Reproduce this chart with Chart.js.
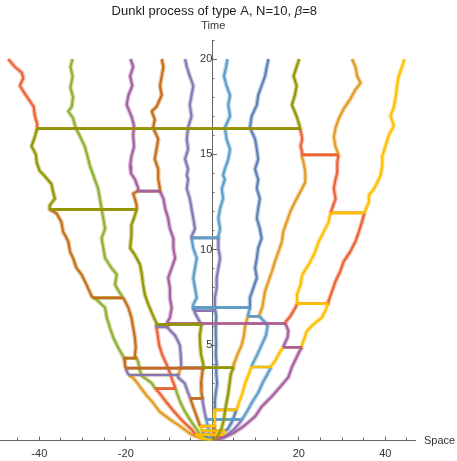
<!DOCTYPE html>
<html><head><meta charset="utf-8">
<script src="https://cdn.jsdelivr.net/npm/chart.js@4.4.0/dist/chart.umd.min.js"></script>
<style>html,body{margin:0;padding:0;background:#fff;}#wrap{width:457px;height:461px;}</style>
</head><body><div id="wrap"><canvas id="c" width="457" height="461"></canvas></div>
<script>
// ---- data (Space x, Time t), each rank = k-th particle from the left, read top to bottom ----
const rank1 = [[20,-47.2],[19.6,-45.7],[19.3,-44.1],[19.0,-43.7],[18.6,-44.5],[18.2,-43.4],[17.8,-42.2],[17.5,-41.3],[17.0,-41.0],[16.6,-40.5],[15.95,-41.0],[15.43,-41.8],[15.0,-40.8],[14.57,-40.6],[14.13,-39.9],[13.9,-38.9],[13.45,-37.2],[13.02,-36.8],[12.68,-36.4],[12.33,-37.6],[11.9,-36.0],[11.46,-34.9],[10.95,-34.5],[10.43,-33.3],[9.9,-32.9],[9.56,-32.2],[9.04,-31.4],[8.69,-30.2],[8.17,-29.1],[7.57,-27.9],[7.39,-26.8],[6.96,-24.8],[6.44,-24.4],[5.92,-23.7],[5.4,-22.9],[4.88,-21.8],[4.4,-20.6],[4.0,-20.2],[3.6,-19.7],[3.3,-18.4],[3.0,-17.3],[2.8,-16.7],[2.3,-15.0],[2.0,-13.8],[1.5,-12.1],[1.1,-9.8],[0.8,-7.8],[0.5,-6.0],[0.3,-4.8],[0.12,-2.8],[0,0]];
const rank2 = [[20,-32.3],[19.6,-32.8],[19.1,-32.3],[18.5,-32.8],[18.0,-32.2],[17.5,-32.5],[17.26,-33.3],[16.9,-32.2],[16.4,-31.6],[15.95,-30.6],[15.43,-29.5],[14.93,-28.9],[14.4,-28.3],[13.9,-27.5],[13.7,-27.2],[13.2,-26.4],[12.68,-26.0],[12.16,-25.6],[11.64,-25.2],[11.1,-24.8],[10.6,-25.6],[10.1,-25.2],[9.56,-24.8],[9.04,-23.3],[8.7,-22.1],[8.17,-22.5],[7.74,-21.4],[7.4,-20.4],[6.96,-19.4],[6.44,-18.7],[5.92,-18.3],[5.4,-17.9],[4.88,-17.7],[4.45,-17.9],[4.1,-17.1],[3.7,-16.8],[3.38,-16.3],[3.0,-14.0],[2.75,-13.3],[2.5,-12.3],[2.0,-10.6],[1.5,-8.8],[1.0,-6.8],[0.6,-4.9],[0.35,-4.0],[0.1,-2.1],[0,0]];
const rank3 = [[20,-18.9],[19.6,-18.3],[19.1,-19.0],[18.6,-18.5],[18.1,-19.4],[17.6,-19.8],[17.0,-18.7],[16.5,-18.1],[16.0,-18.3],[15.4,-18.1],[14.9,-18.7],[14.4,-19.0],[14.0,-18.8],[13.7,-17.9],[13.2,-17.1],[12.94,-18.3],[12.68,-17.9],[12.33,-17.5],[11.8,-17.9],[11.29,-18.7],[10.77,-18.7],[10.08,-19.0],[9.73,-17.9],[9.21,-16.7],[8.7,-16.3],[8.17,-16.0],[7.65,-15.6],[7.13,-14.8],[6.7,-14.0],[6.44,-13.5],[6.15,-12.9],[5.9,-12.9],[5.5,-12.6],[5.0,-12.3],[4.5,-11.6],[4.0,-10.6],[3.6,-9.9],[3.2,-9.3],[2.85,-8.7],[2.5,-8.2],[2.0,-7.4],[1.5,-6.3],[1.0,-4.9],[0.6,-3.7],[0.3,-2.8],[0.1,-1.5],[0,0]];
const rank4 = [[20,-11.7],[19.6,-11.3],[19.1,-11.7],[18.6,-12.1],[18.1,-11.7],[17.5,-12.9],[17.26,-14.0],[16.83,-13.3],[16.4,-13.7],[15.8,-12.5],[15.27,-12.9],[14.75,-13.3],[14.23,-12.5],[13.7,-12.5],[13.2,-12.1],[12.68,-11.3],[12.16,-10.9],[11.64,-10.2],[11.1,-9.8],[10.6,-9.0],[10.08,-9.0],[9.56,-8.6],[9.04,-9.4],[8.52,-10.2],[8.0,-9.8],[7.48,-9.8],[6.96,-9.4],[6.44,-9.8],[6.2,-10.4],[5.9,-10.3],[5.5,-8.6],[5.0,-7.5],[4.5,-7.3],[4.0,-7.2],[3.6,-7.6],[3.3,-7.9],[3.0,-6.4],[2.5,-5.6],[2.0,-4.8],[1.5,-4.0],[1.0,-3.2],[0.6,-2.6],[0.3,-1.8],[0.1,-0.9],[0,0]];
const rank5 = [[20,-6.3],[19.6,-5.9],[19.1,-5.2],[18.6,-4.4],[18.1,-4.8],[17.6,-5.2],[17.0,-4.8],[16.4,-5.6],[15.8,-5.9],[15.27,-5.6],[14.75,-6.3],[14.23,-5.6],[13.9,-5.9],[13.7,-5.6],[13.2,-5.9],[12.68,-5.2],[12.16,-4.8],[11.64,-4.4],[11.1,-4.0],[10.7,-4.8],[10.08,-4.4],[9.56,-3.6],[9.04,-4.0],[8.52,-4.4],[8.0,-4.0],[7.48,-3.6],[7.13,-4.4],[6.9,-4.4],[6.5,-3.6],[6.1,-2.6],[5.5,-2.9],[5.0,-2.8],[4.5,-2.6],[4.0,-2.1],[3.6,-2.3],[3.0,-2.6],[2.5,-2.5],[2.0,-2.2],[1.5,-1.8],[1.0,-1.3],[0.6,-0.9],[0.3,-0.7],[0.1,-0.3],[0,0]];
const rank6 = [[20,3.5],[19.6,3.2],[19.1,2.7],[18.6,3.3],[18.1,4.1],[17.6,3.7],[17.0,4.1],[16.4,2.9],[15.8,3.3],[15.27,4.1],[14.75,3.7],[14.23,2.9],[13.9,2.5],[13.7,2.9],[13.2,2.2],[12.68,2.5],[12.16,1.8],[11.64,1.4],[11.1,1.8],[10.7,1.4],[10.08,1.4],[9.56,1.8],[9.04,1.4],[8.52,1.0],[8.0,1.0],[7.48,0.6],[7.0,0.6],[6.5,0.9],[6.0,0.8],[5.5,0.8],[5.0,0.9],[4.5,0.8],[4.0,1.0],[3.5,0.9],[3.0,1.1],[2.5,0.8],[2.0,0.6],[1.5,0.6],[1.0,0.6],[0.6,0.5],[0.3,0.4],[0.1,0.3],[0,0]];
const rank7 = [[20,13.0],[19.6,12.6],[19.1,12.2],[18.6,11.4],[18.1,10.6],[17.6,10.3],[17.0,9.1],[16.4,8.7],[15.8,9.9],[15.27,10.3],[14.75,10.6],[14.23,9.9],[13.9,10.3],[13.7,10.6],[13.2,10.3],[12.68,11.0],[12.16,10.6],[11.64,10.3],[11.1,11.0],[10.6,11.4],[10.08,10.6],[9.56,10.3],[9.04,9.9],[8.52,10.3],[8.0,9.5],[7.48,8.7],[7.0,8.7],[6.6,8.3],[6.0,7.6],[5.5,7.3],[5.0,6.8],[4.5,5.8],[4.0,5.0],[3.5,4.3],[3.0,4.0],[2.5,3.7],[2.0,3.3],[1.5,2.9],[1.0,2.6],[0.6,2.1],[0.3,1.4],[0.1,0.9],[0,0]];
const rank8 = [[20,20.1],[19.6,19.5],[19.1,18.8],[18.6,19.5],[18.1,19.1],[17.6,18.4],[17.0,19.5],[16.4,20.3],[15.95,20.7],[15.8,20.8],[15.43,20.4],[15.1,20.8],[14.58,21.1],[14.06,21.5],[13.54,21.5],[13.02,20.3],[12.5,19.1],[11.98,18.0],[11.46,17.2],[10.95,16.4],[10.43,16.1],[9.9,15.3],[9.39,14.5],[8.87,13.8],[8.35,13.0],[7.83,12.2],[7.31,11.8],[7.0,11.6],[6.6,10.9],[6.2,12.2],[6.0,12.8],[5.5,12.4],[5.0,11.4],[4.5,10.4],[4.0,9.3],[3.5,8.5],[3.0,7.6],[2.5,7.0],[2.0,6.2],[1.5,5.4],[1.0,4.6],[0.6,3.6],[0.35,2.6],[0.1,1.5],[0,0]];
const rank9 = [[20,32.3],[19.6,33.1],[19.1,33.5],[18.75,34.3],[18.4,33.1],[17.9,31.9],[17.4,30.4],[16.9,29.3],[16.4,28.5],[15.9,28.1],[15.4,28.5],[15.1,29.0],[14.58,28.9],[14.06,28.9],[13.7,28.5],[13.2,28.1],[12.68,28.5],[12.16,27.7],[11.46,26.9],[10.95,25.8],[10.43,24.6],[9.9,23.8],[9.39,22.7],[8.69,20.8],[8.17,20.4],[7.65,19.6],[7.25,19.6],[7.0,19.3],[6.5,18.0],[6.2,16.9],[5.75,17.6],[5.4,17.4],[5.0,16.6],[4.7,15.8],[4.2,14.6],[3.9,13.6],[3.5,12.8],[3.0,11.6],[2.5,10.6],[2.0,9.2],[1.5,8.0],[1.0,6.6],[0.6,5.1],[0.3,3.5],[0.1,2.0],[0,0]];
const rank10 = [[20,44.4],[19.6,43.9],[19.1,43.1],[18.6,42.7],[18.0,42.4],[17.5,42.0],[17.0,41.2],[16.5,42.0],[16.0,40.8],[15.4,40.0],[14.9,39.3],[14.4,39.3],[13.9,38.9],[13.7,38.5],[13.2,37.4],[12.85,36.2],[12.5,36.2],[12.07,35.4],[11.46,34.6],[10.95,33.9],[10.43,33.1],[9.9,31.9],[9.39,30.4],[8.87,29.6],[8.35,28.5],[7.83,27.7],[7.31,26.9],[6.79,26.1],[6.44,25.3],[6.09,23.4],[5.75,21.9],[5.23,21.1],[4.95,20.7],[4.6,20.0],[4.36,19.5],[3.84,18.4],[3.32,17.6],[2.81,15.7],[2.29,13.7],[1.77,11.4],[1.25,9.9],[0.73,7.2],[0.38,4.9],[0.15,2.6],[0,0]];
// jumps: [time, rankA, xA, rankB, xB]  (the two particles exchange places)
const jumps = [[16.35,1,-40.5,8,20.3],[14.98,8,20.6,9,29.2],[13.07,3,-17.3,4,-12.1],[12.12,1,-37.6,3,-17.5],[11.93,9,27.3,10,35.2],[10.62,5,-4.8,6,1.4],[7.48,1,-27.6,2,-20.6],[7.17,9,19.6,10,26.8],[6.96,5,-4.4,7,8.7],[6.8,5,-4.2,6,0.7],[6.5,7,8.2,8,10.9],[6.13,4,-10.4,9,16.9],[6.08,3,-12.9,5,-2.5],[5.95,3,-12.8,4,-10.2],[4.88,9,16.4,10,20.7],[4.31,1,-20.4,2,-17.5],[3.85,8,9.0,9,13.6],[3.82,5,-2.1,7,4.9],[3.81,4,-7.3,5,-2.1],[3.79,1,-20.1,5,-2.1],[3.43,1,-19.4,4,-7.8],[2.72,2,-13.2,3,-8.5],[2.2,4,-5.1,5,-2.3],[1.6,6,0.6,8,5.6],[1.1,5,-1.4,9,6.9],[0.75,4,-2.8,6,0.5],[0.5,4,-2.3,8,3.0],[0.3,2,-3.9,8,2.5]];
const palette = ['#5E81B5','#E19C24','#8FB032','#EB6235','#8778B3','#C56E1A','#5D9EC7','#FFBF00','#A5609D','#929600'];
const topColorOfRank = [3,2,8,5,4,6,0,9,1,7];
const xTicks = [-40,-20,20,40];
const xMinorTicks = [-45,-40,-35,-30,-25,-20,-15,-10,-5,5,10,15,20,25,30,35,40,45];
const yTicks = [5,10,15,20];
const yMinorTicks = [1,2,3,4,6,7,8,9,11,12,13,14,16,17,18,19,21];
const titleMain = 'Dunkl process of type A, N=10, ';
const titleBeta = 'β';
const titleEnd = '=8';
const xAxisLabel = 'Space';
const yAxisLabel = 'Time';

// ---- build one trajectory per particle, following exchanges from the top down ----
const ranks = [rank1,rank2,rank3,rank4,rank5,rank6,rank7,rank8,rank9,rank10];
const sortedJumps = jumps.slice().sort((a,b)=>b[0]-a[0]);
function trajectory(startRank){
  let r = startRank, tc = Infinity; const pts = [];
  for (const [ts, ra, xa, rb, xb] of sortedJumps){
    if (ra-1 !== r && rb-1 !== r) continue;
    const mine = (ra-1===r)?xa:xb, other=(ra-1===r)?xb:xa, nr=(ra-1===r)?rb-1:ra-1;
    for (const [t,x] of ranks[r]) if (t<tc && t>ts) pts.push({x:x,y:t});
    pts.push({x:mine,y:ts},{x:other,y:ts});
    r = nr; tc = ts;
  }
  for (const [t,x] of ranks[r]) if (t<tc) pts.push({x:x,y:t});
  return pts;
}
function alpha(hex,a){const n=parseInt(hex.slice(1),16);return `rgba(${n>>16},${(n>>8)&255},${n&255},${a})`;}
const isFlat = (c)=>c.p0.parsed.y===c.p1.parsed.y;
const datasets = [];
ranks.forEach((_,i)=>{
  const ci = topColorOfRank[i], col = palette[ci], pts = trajectory(i);
  datasets.push({data: pts, borderColor: col, backgroundColor: col, order: 10-ci,
    showLine:true, borderWidth:2.1, pointRadius:0, tension:0, borderJoinStyle:'round', fill:false,
    segment:{borderWidth:(c)=>isFlat(c)?2.7:2.1}});
  datasets.push({data: pts, borderColor: alpha(col,0.4), backgroundColor: col, order: 100-ci,
    showLine:true, borderWidth:4.6, pointRadius:0, tension:0, borderJoinStyle:'round', fill:false,
    segment:{borderColor:(c)=>isFlat(c)?'rgba(0,0,0,0)':alpha(col,0.4)}});
});

const FONT = '"Liberation Sans", Arial, sans-serif';
const AX = '#666', TX = '#333';
const textPlugin = {id:'texts', afterDraw(chart){
  const {ctx, scales} = chart; const x0 = scales.x.getPixelForValue(0);
  ctx.save(); ctx.fillStyle = '#222'; ctx.textBaseline='alphabetic';
  ctx.font = '13px '+FONT; const w1 = ctx.measureText(titleMain).width, w3 = ctx.measureText(titleEnd).width;
  ctx.font = 'italic 13px '+FONT; const w2 = ctx.measureText(titleBeta).width;
  let sx = x0 + 2 - (w1+w2+w3)/2; ctx.textAlign='left';
  ctx.font = '13px '+FONT; ctx.fillText(titleMain, sx, 15);
  ctx.font = 'italic 13px '+FONT; ctx.fillText(titleBeta, sx+w1, 15);
  ctx.font = '13px '+FONT; ctx.fillText(titleEnd, sx+w1+w2, 15);
  ctx.fillStyle = TX; ctx.font = '11px '+FONT; ctx.textAlign='center';
  ctx.fillText(yAxisLabel, x0+1, 29);
  ctx.textAlign='left'; ctx.textBaseline='middle';
  ctx.fillText(xAxisLabel, chart.chartArea.right+9, scales.y.getPixelForValue(0)+1);
  ctx.restore();
}};
function setTicks(vals){ return (s)=>{ s.ticks = vals.map(v=>({value:v})); }; }
new Chart(document.getElementById('c'), {
  type:'scatter',
  data:{datasets},
  options:{
    responsive:false, animation:false, devicePixelRatio:1,
    layout:{padding:{left:0,right:42,top:40,bottom:17}},
    plugins:{legend:{display:false}, tooltip:{enabled:false}, title:{display:false}},
    scales:{
      x:{type:'linear', min:-49.09, max:46.87, position:{y:0},
        border:{display:true,color:AX,width:1},
        grid:{drawOnChartArea:false, drawTicks:true, tickLength:-4.5, color:AX},
        ticks:{padding:11, color:TX, font:{family:FONT,size:11}, callback:(v)=>String(v)},
        afterBuildTicks:setTicks(xTicks)},
      xMinor:{type:'linear', axis:'x', min:-49.09, max:46.87, position:{y:0},
        border:{display:false}, grid:{drawOnChartArea:false, drawTicks:true, tickLength:-2.5, color:AX},
        ticks:{display:false}, afterBuildTicks:setTicks(xMinorTicks)},
      y:{type:'linear', min:0, max:21, position:{x:0},
        border:{display:true,color:AX,width:1},
        grid:{drawOnChartArea:false, drawTicks:true, tickLength:-5, color:AX},
        ticks:{padding:14, color:TX, font:{family:FONT,size:11}, callback:(v)=>String(v)},
        afterBuildTicks:setTicks(yTicks)},
      yMinor:{type:'linear', axis:'y', min:0, max:21, position:{x:0},
        border:{display:false}, grid:{drawOnChartArea:false, drawTicks:true, tickLength:-2.5, color:AX},
        ticks:{display:false}, afterBuildTicks:setTicks(yMinorTicks)}
    }
  },
  plugins:[textPlugin]
});
</script></body></html>
